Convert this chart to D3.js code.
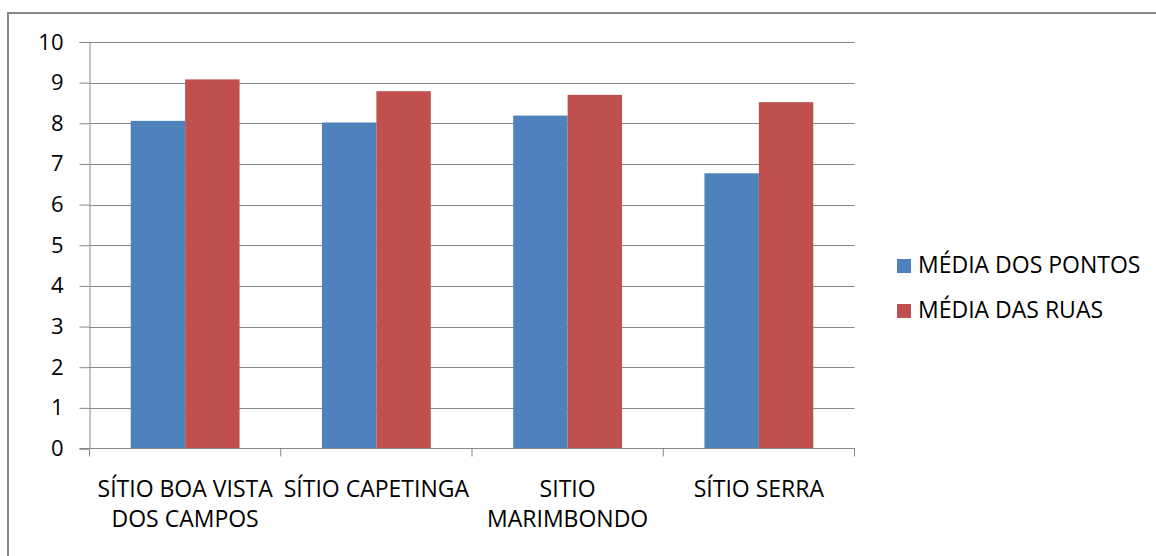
<!DOCTYPE html>
<html>
<head>
<meta charset="utf-8">
<script src="https://cdn.jsdelivr.net/npm/d3@7"></script>
<style>
  html, body { margin: 0; padding: 0; background: #fff; }
  svg { display: block; }
  text { font-family: "Open Sans", "Liberation Sans", sans-serif; fill: #000; }
</style>
</head>
<body>
<svg id="chart" width="1156" height="556"></svg>
<script>
// Sites (line breaks are kept as separate label lines)
const categories = [
  ["SÍTIO BOA VISTA", "DOS CAMPOS"],
  ["SÍTIO CAPETINGA"],
  ["SITIO", "MARIMBONDO"],
  ["SÍTIO SERRA"]
];
const seriesNames = ["MÉDIA DOS PONTOS", "MÉDIA DAS RUAS"];
const mediaPontos = [8.06, 8.02, 8.19, 6.77];
const mediaRuas = [9.08, 8.79, 8.70, 8.52];
const yTicks = [0, 1, 2, 3, 4, 5, 6, 7, 8, 9, 10];
const colors = ["#4F81BD", "#C0504D"];

const svg = d3.select("#chart");

// Frame: top and left edges of the chart area
svg.append("line").attr("x1", 8).attr("x2", 1156).attr("y1", 13).attr("y2", 13)
  .attr("stroke", "#878787").attr("stroke-width", 2);
svg.append("line").attr("x1", 8).attr("x2", 8).attr("y1", 12).attr("y2", 556)
  .attr("stroke", "#878787").attr("stroke-width", 2);

const plot = { left: 89.5, right: 854.5, top: 42, bottom: 448.5 };

const keys = categories.map((c, i) => i);
const x = d3.scaleBand().domain(keys).range([plot.left, plot.right]).paddingInner(0).paddingOuter(0);
const x1 = d3.scaleBand().domain([0, 1]).range([0, x.bandwidth()]).paddingOuter(0.757).paddingInner(0);
const y = d3.scaleLinear().domain([0, 10]).range([plot.bottom, plot.top]);

// Horizontal gridlines
svg.append("g").selectAll("line").data(yTicks.filter(t => t > 0)).join("line")
  .attr("x1", plot.left).attr("x2", plot.right)
  .attr("y1", d => Math.round(y(d)) + 0.5).attr("y2", d => Math.round(y(d)) + 0.5)
  .attr("stroke", "#878787").attr("stroke-width", 1);

// Bars
const data = keys.map(i => [mediaPontos[i], mediaRuas[i]]);
const groups = svg.append("g").selectAll("g").data(data).join("g")
  .attr("transform", (d, i) => `translate(${x(i)},0)`);
groups.selectAll("rect").data(d => d).join("rect")
  .attr("x", (d, j) => x1(j))
  .attr("width", x1.bandwidth())
  .attr("y", d => y(d))
  .attr("height", d => y(0) - y(d))
  .attr("fill", (d, j) => colors[j]);

// Y axis
const yAxis = d3.axisLeft(y).tickValues(yTicks).tickSize(10).tickPadding(16).tickFormat(d3.format("d"));
const gy = svg.append("g").attr("transform", `translate(${plot.left},0)`).call(yAxis);
gy.select(".domain").attr("stroke", "#878787");
gy.selectAll(".tick line").attr("stroke", "#878787");
gy.selectAll(".tick text").attr("font-size", 22).attr("fill", "#000")
  .attr("font-family", '"Open Sans", sans-serif');

// X axis baseline with category dividers
const gx = svg.append("g");
gx.append("line").attr("x1", plot.left - 10).attr("x2", plot.right)
  .attr("y1", plot.bottom).attr("y2", plot.bottom).attr("stroke", "#878787");
const dividers = keys.map(i => x(i)).concat([plot.right]);
gx.selectAll("line.div").data(dividers).join("line").attr("class", "div")
  .attr("x1", d => d).attr("x2", d => d)
  .attr("y1", plot.bottom).attr("y2", plot.bottom + 8).attr("stroke", "#878787");

// Category labels
const lbl = svg.append("g").selectAll("text").data(categories).join("text")
  .attr("text-anchor", "middle").attr("font-size", 23)
  .attr("x", (d, i) => x(i) + x.bandwidth() / 2).attr("y", 497);
lbl.selectAll("tspan").data(d => d).join("tspan")
  .attr("x", function () { return this.parentNode.getAttribute("x"); })
  .attr("dy", (d, k) => k === 0 ? 0 : 30)
  .text(d => d);

// Legend
const legend = svg.append("g").selectAll("g").data(seriesNames).join("g")
  .attr("transform", (d, i) => `translate(897,${259 + i * 45})`);
legend.append("rect").attr("width", 14).attr("height", 14).attr("fill", (d, i) => colors[i]);
legend.append("text").attr("x", 21).attr("y", 14).attr("font-size", 23).text(d => d);
</script>
</body>
</html>
